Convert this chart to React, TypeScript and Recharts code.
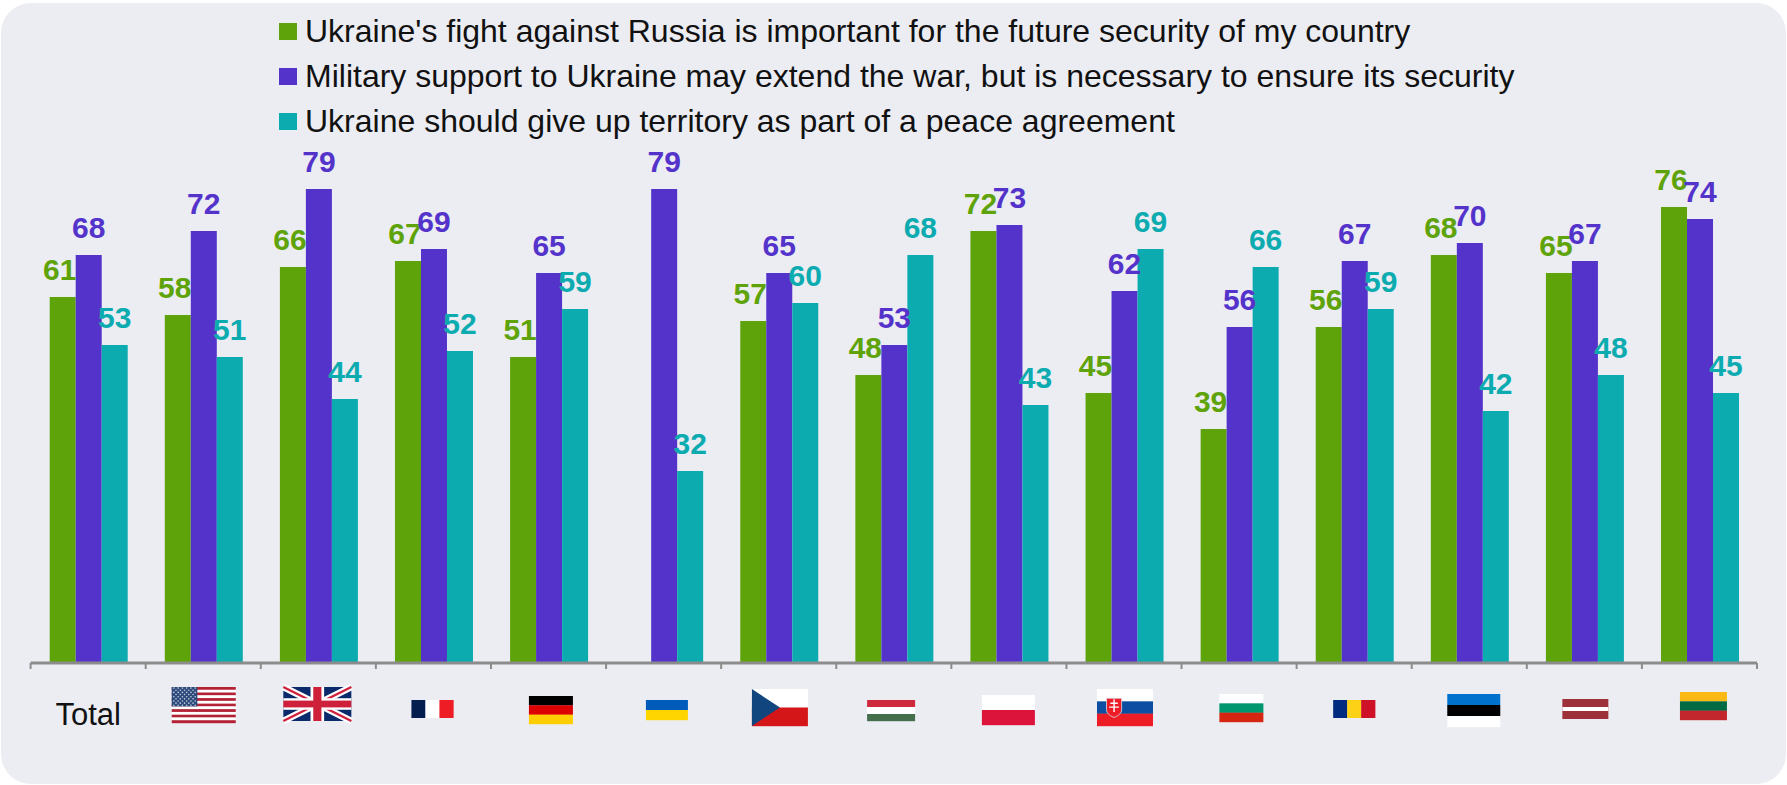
import { BarChart, Bar, XAxis, YAxis, Legend, LabelList } from 'recharts';

const categories = ['Total', 'US', 'UK', 'FR', 'DE', 'UA', 'CZ', 'HU', 'PL', 'SK', 'BG', 'RO', 'EE', 'LV', 'LT'];
const securityValues = [61, 58, 66, 67, 51, null, 57, 48, 72, 45, 39, 56, 68, 65, 76];
const militaryValues = [68, 72, 79, 69, 65, 79, 65, 53, 73, 62, 56, 67, 70, 67, 74];
const territoryValues = [53, 51, 44, 52, 59, 32, 60, 68, 43, 69, 66, 59, 42, 48, 45];
const seriesNames = [
  "Ukraine's fight against Russia is important for the future security of my country",
  'Military support to Ukraine may extend the war, but is necessary to ensure its security',
  'Ukraine should give up territory as part of a peace agreement',
];

const GREEN = '#5FA30A';
const PURPLE = '#5433CB';
const TEAL = '#0CABB0';
const AXIS = '#8C8C8C';
const FONT = '"Liberation Sans", Arial, sans-serif';
const BAND = 115.1;

const chartData = categories.map((name, i) => ({
  name,
  security: securityValues[i],
  military: militaryValues[i],
  territory: territoryValues[i],
}));

// flag placement relative to the tick: dx, dy, width, height
const flagBoxes: Record<string, number[]> = {
  US: [-31.5, 24, 64, 36],
  UK: [-35, 24, 68, 34],
  FR: [-22, 37, 42, 18],
  DE: [-19.6, 33, 44, 28],
  UA: [-17.7, 37, 42, 20],
  CZ: [-26.8, 26, 56, 37],
  HU: [-26.7, 37, 48, 21],
  PL: [-27, 32, 53, 30],
  SK: [-27, 26, 56, 37],
  BG: [-19.7, 31, 44, 28],
  RO: [-21, 37, 42, 18],
  EE: [-22, 31, 53, 33],
  LV: [-22, 36, 46, 20],
  LT: [-19.5, 29, 47, 28],
};

const hStripes = (w: number, h: number, colors: string[]) =>
  colors.map((c, i) => <rect key={i} x={0} y={(h * i) / colors.length} width={w} height={h / colors.length + 0.2} fill={c} />);

const vStripes = (w: number, h: number, colors: string[]) =>
  colors.map((c, i) => <rect key={i} x={(w * i) / colors.length} y={0} width={w / colors.length + 0.2} height={h} fill={c} />);

function usFlag(w: number, h: number) {
  const stripes = Array.from({ length: 13 }, (_, i) => (i % 2 === 0 ? '#B22234' : '#FFFFFF'));
  const cw = w * 0.4;
  const ch = (h * 7) / 13;
  const stars = [];
  for (let r = 0; r < 9; r++) {
    const n = r % 2 === 0 ? 6 : 5;
    for (let c = 0; c < n; c++) {
      const sx = ((c + (r % 2 === 0 ? 0.5 : 1)) * cw) / 6;
      const sy = ((r + 0.5) * ch) / 9;
      stars.push(<circle key={`${r}-${c}`} cx={sx} cy={sy} r={0.8} fill="#C8CEDD" />);
    }
  }
  return (
    <g>
      {hStripes(w, h, stripes)}
      <rect width={cw} height={ch} fill="#2C4A7C" />
      {stars}
    </g>
  );
}

function ukFlag(w: number, h: number) {
  return (
    <g>
      <rect width={w} height={h} fill="#0A2A6C" />
      <path d={`M0 0L${w} ${h}M${w} 0L0 ${h}`} stroke="#FFFFFF" strokeWidth={h * 0.2} />
      <path d={`M0 0L${w} ${h}M${w} 0L0 ${h}`} stroke="#D0203C" strokeWidth={h * 0.07} />
      <rect x={w * 0.4} width={w * 0.2} height={h} fill="#FFFFFF" />
      <rect y={h * 0.33} width={w} height={h * 0.34} fill="#FFFFFF" />
      <rect x={w * 0.44} width={w * 0.12} height={h} fill="#CE1F3B" />
      <rect y={h * 0.4} width={w} height={h * 0.2} fill="#CE1F3B" />
    </g>
  );
}

function czFlag(w: number, h: number) {
  return (
    <g>
      {hStripes(w, h, ['#FFFFFF', '#D51619'])}
      <path d={`M0 0L${w / 2} ${h / 2}L0 ${h}Z`} fill="#11457E" />
    </g>
  );
}

function skFlag(w: number, h: number) {
  const sx = w * 0.17;
  const sw = w * 0.27;
  const st = h * 0.25;
  const sh = h * 0.52;
  return (
    <g>
      {hStripes(w, h, ['#FFFFFF', '#0B4EA2', '#EE1C25'])}
      <path
        d={`M${sx} ${st}H${sx + sw}V${st + sh * 0.6}Q${sx + sw} ${st + sh * 0.85} ${sx + sw / 2} ${st + sh}Q${sx} ${st + sh * 0.85} ${sx} ${st + sh * 0.6}Z`}
        fill="#EE1C25"
        stroke="#D8DEEA"
        strokeWidth={0.8}
      />
      <path
        d={`M${sx + sw / 2} ${st + 1}V${st + sh * 0.72}M${sx + sw * 0.25} ${st + sh * 0.26}H${sx + sw * 0.75}M${sx + sw * 0.18} ${st + sh * 0.46}H${sx + sw * 0.82}`}
        stroke="#FFFFFF"
        strokeWidth={1.4}
      />
    </g>
  );
}

function Flag({ code, w, h }: { code: string; w: number; h: number }) {
  switch (code) {
    case 'US':
      return usFlag(w, h);
    case 'UK':
      return ukFlag(w, h);
    case 'FR':
      return <g>{vStripes(w, h, ['#041E50', '#FFFFFF', '#EE1C25'])}</g>;
    case 'DE':
      return <g>{hStripes(w, h, ['#000000', '#DD0000', '#FFCE00'])}</g>;
    case 'UA':
      return <g>{hStripes(w, h, ['#005BBB', '#FFD500'])}</g>;
    case 'CZ':
      return czFlag(w, h);
    case 'HU':
      return <g>{hStripes(w, h, ['#CD2A3E', '#FFFFFF', '#436F4D'])}</g>;
    case 'PL':
      return <g>{hStripes(w, h, ['#FFFFFF', '#DC143C'])}</g>;
    case 'SK':
      return skFlag(w, h);
    case 'BG':
      return <g>{hStripes(w, h, ['#FFFFFF', '#00966E', '#D62612'])}</g>;
    case 'RO':
      return <g>{vStripes(w, h, ['#002B7F', '#FCD116', '#CE1126'])}</g>;
    case 'EE':
      return <g>{hStripes(w, h, ['#0072CE', '#000000', '#FFFFFF'])}</g>;
    case 'LV':
      return (
        <g>
          <rect width={w} height={h} fill="#9E3039" />
          <rect y={h * 0.4} width={w} height={h * 0.2} fill="#FFFFFF" />
        </g>
      );
    case 'LT':
      return <g>{hStripes(w, h, ['#FDB913', '#006A44', '#C1272D'])}</g>;
    default:
      return null;
  }
}

// ticks sit on the category boundaries, flags below the category centre
function CountryTick(props: any) {
  const { x, y, payload, index } = props;
  const code = payload.value as string;
  const box = flagBoxes[code];
  const isLast = index === categories.length - 1;
  return (
    <g>
      <line x1={x - BAND / 2} x2={x - BAND / 2} y1={y} y2={y + 6} stroke={AXIS} strokeWidth={2} />
      {isLast && <line x1={x + BAND / 2} x2={x + BAND / 2} y1={y} y2={y + 6} stroke={AXIS} strokeWidth={2} />}
      {code === 'Total' ? (
        <text x={x} y={y + 62} textAnchor="middle" fontSize={31} fontFamily={FONT} fill="#111">
          {code}
        </text>
      ) : (
        <g transform={`translate(${x + box[0]},${y + box[1]})`}>
          <Flag code={code} w={box[2]} h={box[3]} />
        </g>
      )}
    </g>
  );
}

const valueLabel = (color: string, dx: number) => (props: any) => {
  const { x, y, width, value } = props;
  if (value === null || value === undefined) return null;
  return (
    <text
      x={x + width / 2 + dx}
      y={y - 17}
      textAnchor="middle"
      fontSize={30}
      fontWeight="bold"
      fontFamily={FONT}
      fill={color}
    >
      {value}
    </text>
  );
};

function LegendBlock({ payload }: any) {
  return (
    <div style={{ fontFamily: FONT, fontSize: 32, color: '#111' }}>
      {(payload || []).map((item: any) => (
        <div key={item.value} style={{ display: 'flex', alignItems: 'center', height: 45 }}>
          <span style={{ width: 18, height: 17, background: item.color, marginRight: 8, flex: 'none' }} />
          <span style={{ whiteSpace: 'nowrap' }}>{item.value}</span>
        </div>
      ))}
    </div>
  );
}

export default function App() {
  return (
    <div style={{ position: 'absolute', left: 0, top: 0, width: 1787, height: 785, background: '#fff' }}>
      <div
        style={{
          position: 'absolute',
          left: 1,
          top: 3,
          width: 1785,
          height: 781,
          background: '#ECEDF3',
          borderRadius: 30,
        }}
      />
      <div style={{ position: 'absolute', left: 0, top: 0 }}>
        <BarChart
          width={1787}
          height={785}
          data={chartData}
          barGap={0}
          barCategoryGap="16.6%"
          margin={{ top: 63, right: 30, bottom: 0, left: 30.6 }}
        >
          <XAxis
            dataKey="name"
            interval={0}
            height={122}
            tickLine={false}
            tickSize={0}
            tickMargin={0}
            axisLine={{ stroke: AXIS, strokeWidth: 3 }}
            tick={<CountryTick />}
          />
          <YAxis hide domain={[0, 100]} />
          <Legend
            layout="vertical"
            align="center"
            verticalAlign="middle"
            itemSorter={null}
            wrapperStyle={{ left: 279, top: 9, width: 1300 }}
            content={<LegendBlock />}
          />
          <Bar dataKey="security" name={seriesNames[0]} fill={GREEN} isAnimationActive={false}>
            <LabelList dataKey="security" content={valueLabel(GREEN, -3)} />
          </Bar>
          <Bar dataKey="military" name={seriesNames[1]} fill={PURPLE} isAnimationActive={false}>
            <LabelList dataKey="military" content={valueLabel(PURPLE, 0)} />
          </Bar>
          <Bar dataKey="territory" name={seriesNames[2]} fill={TEAL} isAnimationActive={false}>
            <LabelList dataKey="territory" content={valueLabel(TEAL, 0)} />
          </Bar>
        </BarChart>
      </div>
    </div>
  );
}
